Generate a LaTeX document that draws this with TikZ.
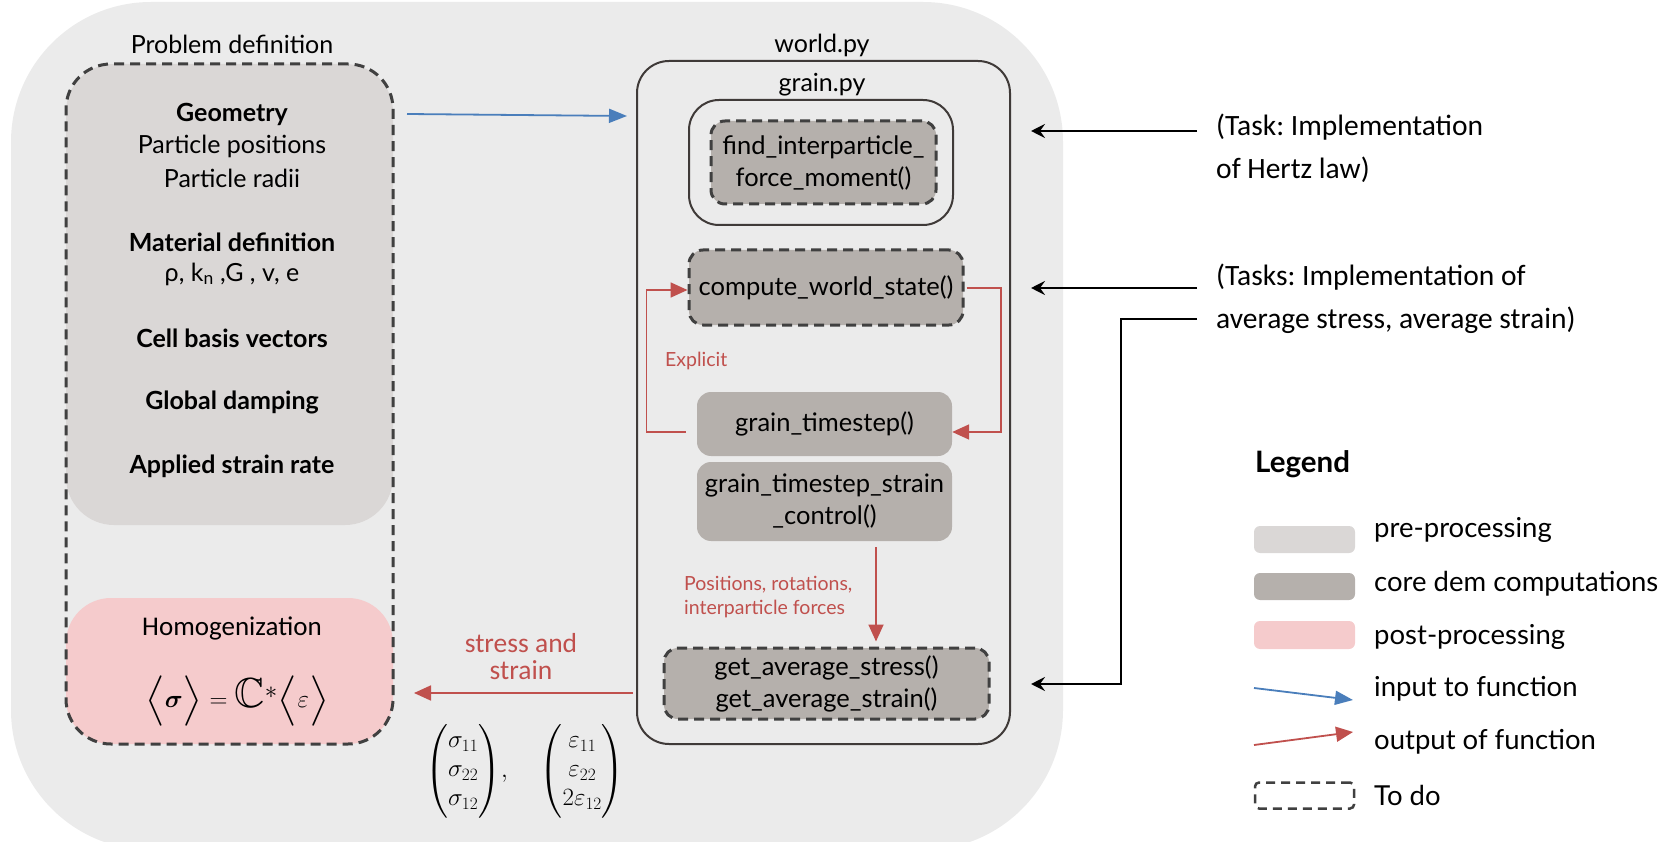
\documentclass[tikz,border=0pt]{standalone}
\usepackage{amsmath,amssymb,bm}
\usepackage{fontspec}
\setmainfont{Lato}
\newfontfamily\carlito{Carlito}
\usetikzlibrary{arrows.meta,calc}
\frenchspacing

\definecolor{bgC}{HTML}{EBEBEB}
\definecolor{preC}{HTML}{DAD7D6}
\definecolor{coreC}{HTML}{B5B0AC}
\definecolor{postC}{HTML}{F5CBCC}
\definecolor{redC}{HTML}{C0504D}
\definecolor{blueC}{HTML}{4A7EBB}
\definecolor{dashC}{HTML}{404040}
\definecolor{frameC}{HTML}{3F3A38}

\tikzset{
  prebox/.style={fill=preC, rounded corners=48pt, inner sep=0pt},
  postbox/.style={fill=postC, rounded corners=45pt, inner sep=0pt},
  corebox/.style={fill=coreC, rounded corners=14pt, inner sep=0pt, align=center,
    font=\fontsize{25.5}{32}\selectfont},
  todo/.style={draw=dashC, line width=3pt, dash pattern=on 10pt off 6pt},
  frame/.style={draw=frameC, line width=2pt, inner sep=0pt},
  title/.style={font=\fontsize{25}{28}\selectfont, inner sep=0pt},
  deftext/.style={font=\fontsize{25}{28}\selectfont, inner sep=0pt},
  defbold/.style={font=\bfseries\fontsize{25}{28}\selectfont, inner sep=0pt},
  redtext/.style={text=redC, inner sep=0pt, align=left,
    font=\fontsize{19.5}{24}\selectfont},
  tasktext/.style={inner sep=0pt, align=left, anchor=west,
    font=\carlito\fontsize{29.5}{43}\selectfont},
  legtext/.style={inner sep=0pt, anchor=west, font=\fontsize{27.5}{30}\selectfont},
  redarrow/.style={draw=redC, line width=1.8pt, -{Triangle[length=17pt,width=15pt]}},
  bluearrow/.style={draw=blueC, line width=1.8pt, -{Triangle[length=18pt,width=14pt]}},
  blackarrow/.style={draw=black, line width=2.2pt,
    -{Stealth[length=14pt,width=14pt,inset=5pt]}},
}

\begin{document}
\begin{tikzpicture}[x=1pt,y=-1pt]
\useasboundingbox (0,0) rectangle (1673,842);

% grey backdrop of the whole workflow
\fill[bgC, rounded corners=140pt] (11,2) rectangle (1063,850);

% ---------- problem definition (pre-processing) ----------
\node[prebox, minimum width=327pt, minimum height=461pt] (pre) at (229.5,294.5) {};
\node[postbox, minimum width=327pt, minimum height=146pt] (post) at (229.5,671) {};
\node[todo, rounded corners=45pt, minimum width=327pt, minimum height=680pt] (pdef) at (229.5,404) {};
\node[title] (pdeftitle) at (232,44) {Problem definition};

\node[defbold] (geo) at (232,114) {Geometry};
\node[deftext] (ppos) at (232,146) {Particle positions};
\node[deftext] (prad) at (232,178) {Particle radii};
\node[defbold] (mat) at (232,242) {Material definition};
\node[deftext] (matp) at (232,274) {ρ, k\textsubscript{n} ,G , v, e};
\node[defbold] (cell) at (232,338) {Cell basis vectors};
\node[defbold] (damp) at (232,402) {Global damping};
\node[defbold] (rate) at (232,466) {Applied strain rate};

% ---------- homogenization (post-processing) ----------
\node[inner sep=0pt, font=\carlito\fontsize{27}{30}\selectfont] (homt) at (232,628) {Homogenization};
\node[inner sep=0pt, font=\fontsize{42}{44}\selectfont] (homf) at (237,701)
  {$\big\langle\bm{\sigma}\big\rangle = \mathbb{C}^{*}\big\langle\varepsilon\big\rangle$};

% ---------- world.py / grain.py ----------
\node[frame, rounded corners=32pt, minimum width=373pt, minimum height=683pt] (world) at (823.5,402.5) {};
\node[title] (worldt) at (822,45) {world.py};
\node[title] (graint) at (822,85) {grain.py};
\node[frame, rounded corners=30pt, minimum width=264pt, minimum height=125pt] (grain) at (821,162.5) {};

\node[corebox, todo, minimum width=225pt, minimum height=83pt] (find) at (823.5,162.5)
  {find\_interparticle\_\\force\_moment()};
\node[corebox, todo, minimum width=274pt, minimum height=75pt] (cws) at (826,287.5)
  {compute\_world\_state()};
\node[corebox, minimum width=255pt, minimum height=64pt] (gts) at (824.5,424)
  {grain\_timestep()};
\node[corebox, minimum width=255pt, minimum height=79pt] (gtsc) at (824.5,501.5)
  {grain\_timestep\_strain\\\_control()};
\node[corebox, todo, minimum width=325pt, minimum height=71pt] (gavg) at (826.5,683.5)
  {get\_average\_stress()\\get\_average\_strain()};

% explicit time-stepping loop
\draw[redarrow] ($(gts.west)+(-11,8)$) -| ($(cws.west)+(-41,2.5)$) -- ($(cws.west)+(0,2.5)$);
\draw[redarrow] ($(cws.east)+(2,0.5)$) -| ($(gts.east)+(49,8)$) -- ($(gts.east)+(0,8)$);
\node[redtext, anchor=west] (expl) at (665,361) {Explicit};

% data passed to the averaging functions
\draw[redarrow] ($(gtsc.south)+(51.5,6)$) -- ($(gavg.north)+(49.5,-5)$);
\node[redtext, anchor=west] (posl) at (684,597) {Positions, rotations,\\interparticle forces};

% averaged quantities back to homogenization
\coordinate (sfrom) at (633,693);
\coordinate (sto) at (414,693);
\draw[redarrow] (sfrom) -- (sto);
\node[text=redC, inner sep=0pt, align=center, font=\carlito\fontsize{27.5}{27}\selectfont] (sst) at (521,657) {stress and\\strain};
\node[inner sep=0pt, font=\fontsize{26}{30}\selectfont] (vecs) at (525,771)
  {\renewcommand{\arraystretch}{0.97}%
   $\begin{pmatrix}\sigma_{11}\\ \sigma_{22}\\ \sigma_{12}\end{pmatrix}\!,\hspace{28pt}
    \begin{pmatrix}\varepsilon_{11}\\ \varepsilon_{22}\\ 2\varepsilon_{12}\end{pmatrix}$};

% inputs from the problem definition
\coordinate (bfrom) at (407,114);
\coordinate (bto) at (627,116);
\draw[bluearrow] (bfrom) -- (bto);

% ---------- task annotations ----------
\node[tasktext] (task1) at (1216,148.5) {(Task: Implementation\\of Hertz law)};
\node[tasktext] (task2) at (1216,298.5) {(Tasks: Implementation of\\average stress, average strain)};
\coordinate (k1a) at (1197,131);
\coordinate (k1b) at (1031,131);
\coordinate (k2a) at (1197,288);
\coordinate (k2b) at (1031,288);
\coordinate (k3a) at (1197,319);
\coordinate (k3b) at (1121,684);
\coordinate (k3c) at (1031,684);
\draw[blackarrow] (k1a) -- (k1b);
\draw[blackarrow] (k2a) -- (k2b);
\draw[blackarrow] (k3a) -| (k3b) -- (k3c);

% ---------- legend ----------
\node[inner sep=0pt, anchor=west, font=\bfseries\fontsize{29.5}{32}\selectfont] (legt) at (1255,464) {Legend};
\node[fill=preC, rounded corners=6pt, minimum width=101pt, minimum height=27pt, inner sep=0pt] (lpre) at (1304.5,539.5) {};
\node[fill=coreC, rounded corners=6pt, minimum width=101pt, minimum height=27pt, inner sep=0pt] (lcore) at (1304.5,586.5) {};
\node[fill=postC, rounded corners=6pt, minimum width=101pt, minimum height=28pt, inner sep=0pt] (lpost) at (1304.5,635) {};
\node[todo, line width=2.5pt, dash pattern=on 9pt off 6pt, rounded corners=4pt, minimum width=99pt, minimum height=26pt, inner sep=0pt] (ltodo) at (1304.5,795.5) {};
\coordinate (lb1) at (1254,688);
\coordinate (lb2) at (1353,700);
\coordinate (lr1) at (1254,745);
\coordinate (lr2) at (1353,732);
\draw[bluearrow] (lb1) -- (lb2);
\draw[redarrow] (lr1) -- (lr2);
\node[legtext] (lpret) at (1374,530) {pre-processing};
\node[legtext] (lcoret) at (1374,584) {core dem computations};
\node[legtext] (lpostt) at (1374,637) {post-processing};
\node[legtext] (linp) at (1374,689) {input to function};
\node[legtext] (lout) at (1374,742) {output of function};
\node[legtext] (ltod) at (1374,795) {To do};
\end{tikzpicture}
\end{document}
